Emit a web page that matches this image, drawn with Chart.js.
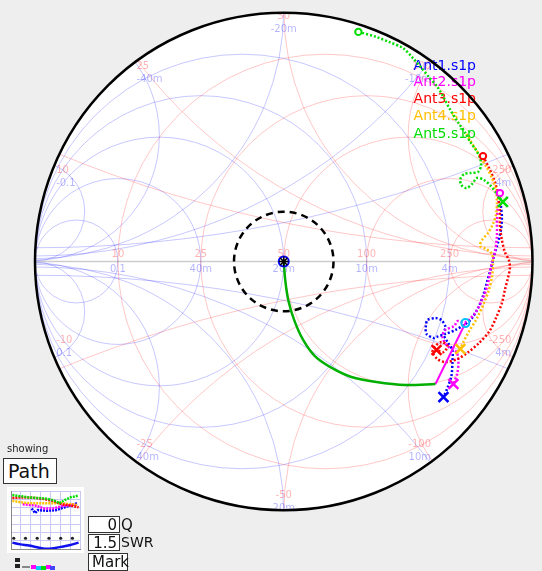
<!DOCTYPE html>
<html>
<head>
<meta charset="utf-8">
<script src="https://cdn.jsdelivr.net/npm/chart.js@4.4.1/dist/chart.umd.min.js"></script>
<style>
  html, body { margin: 0; padding: 0; width: 542px; height: 571px; overflow: hidden;
    background: #eeeeee; font-family: "DejaVu Sans", sans-serif; color: #111; }
  #smith { position: absolute; left: 0; top: 0; }
  #mini { position: absolute; left: 7px; top: 487px; background: #fff; }
  .lbl { position: absolute; white-space: nowrap; }
  .box { position: absolute; background: #fff; border: 1px solid #333; box-sizing: border-box;
    white-space: nowrap; line-height: 1; }
  #showing { left: 7px; top: 443px; font-size: 10px; color: #222; }
  #pathBox { left: 3px; top: 458px; width: 54px; height: 26px; font-size: 19px; padding: 3px 0 0 4px; }
  #qBox { left: 88px; top: 516px; width: 32px; height: 17px; font-size: 15px; text-align: right; padding: 1px 2px 0 0; }
  #swrBox { left: 88px; top: 534px; width: 32px; height: 17px; font-size: 15px; text-align: right; padding: 1px 2px 0 0; }
  #markBox { left: 88px; top: 553px; width: 40px; height: 18px; font-size: 15px; padding: 1px 0 0 3px; }
  #qLbl { left: 121px; top: 516px; font-size: 15px; }
  #swrLbl { left: 121px; top: 534px; font-size: 14px; }
  .sw { position: absolute; width: 5px; height: 4px; }
</style>
</head>
<body>
<canvas id="smith" width="542" height="571"></canvas>
<div class="lbl" id="showing">showing</div>
<div class="box" id="pathBox">Path</div>
<canvas id="mini" width="77" height="66"></canvas>
<div class="box" id="qBox">0</div><div class="lbl" id="qLbl">Q</div>
<div class="box" id="swrBox">1.5</div><div class="lbl" id="swrLbl">SWR</div>
<div class="box" id="markBox">Mark</div>
<div class="sw" style="left:15px;top:558px;background:#222;"></div>
<div class="sw" style="left:15px;top:564px;background:#222;"></div>
<div class="sw" style="left:22px;top:566px;width:8px;height:2px;background:#888;"></div>
<div class="sw" style="left:31px;top:565px;background:#ff00ff;"></div>
<div class="sw" style="left:36px;top:566px;background:#00ccff;"></div>
<div class="sw" style="left:41px;top:566px;background:#00dd00;"></div>
<div class="sw" style="left:46px;top:565px;background:#ff00ff;"></div>
<div class="sw" style="left:50px;top:566px;background:#4444ff;"></div>
<script>
// ---- reference impedance and chart grid ----
const Z0 = 50;
const gridOhms = [10, 25, 50, 100, 250];
const ohmLabels = ['10', '25', '50', '100', '250'];
const siemensLabels = ['0.1', '40m', '20m', '10m', '4m'];
const reactancePosLabels = ['10', '25', '50', '100', '250'];
const reactanceNegLabels = ['-10', '-25', '-50', '-100', '-250'];
const susceptancePosLabels = ['-0.1', '-40m', '-20m', '-10m', '-4m'];
const susceptanceNegLabels = ['0.1', '40m', '20m', '10m', '4m'];
const swrTarget = 1.5;

// ---- measured reflection coefficients [re, im] ----
const antNames = ['Ant1.s1p', 'Ant2.s1p', 'Ant3.s1p', 'Ant4.s1p', 'Ant5.s1p'];
const ant1 = [[0.873,0.221],[0.877,0.177],[0.873,0.125],[0.861,0.074],[0.845,0.022],[0.833,-0.026],
  [0.817,-0.082],[0.801,-0.137],[0.781,-0.185],[0.757,-0.225],[0.730,-0.249],[0.690,-0.272],
  [0.650,-0.288],[0.614,-0.300],[0.602,-0.304],[0.574,-0.288],[0.571,-0.260],[0.578,-0.233],
  [0.610,-0.225],[0.634,-0.233],[0.650,-0.260],[0.642,-0.288],[0.658,-0.320],[0.678,-0.352],
  [0.678,-0.400],[0.674,-0.455],[0.658,-0.503],[0.642,-0.539]];
const ant2 = [[0.869,0.272],[0.861,0.221],[0.857,0.165],[0.857,0.101],[0.849,0.038],[0.837,-0.002],
  [0.829,-0.050],[0.817,-0.101],[0.797,-0.153],[0.769,-0.205],[0.730,-0.241],[0.698,-0.237],
  [0.686,-0.256],[0.650,-0.272],[0.638,-0.300],[0.658,-0.336],[0.694,-0.360],[0.702,-0.396],
  [0.698,-0.443],[0.682,-0.487]];
const ant3 = [[0.801,0.419],[0.825,0.372],[0.849,0.316],[0.861,0.264],[0.869,0.205],[0.869,0.145],
  [0.877,0.085],[0.889,0.038],[0.905,0.006],[0.909,-0.026],[0.901,-0.066],[0.889,-0.113],
  [0.877,-0.165],[0.853,-0.225],[0.825,-0.280],[0.785,-0.324],[0.742,-0.360],[0.698,-0.388],
  [0.650,-0.400],[0.618,-0.388],[0.598,-0.360],[0.610,-0.336],[0.634,-0.320],[0.658,-0.336],
  [0.642,-0.360],[0.614,-0.352]];
const ant4 = [[0.734,0.507],[0.761,0.463],[0.789,0.419],[0.817,0.372],[0.837,0.332],[0.853,0.284],
  [0.857,0.233],[0.853,0.185],[0.841,0.149],[0.821,0.113],[0.797,0.085],[0.789,0.062],
  [0.813,0.050],[0.837,0.030],[0.841,-0.014],[0.837,-0.062],[0.825,-0.113],[0.805,-0.165],
  [0.777,-0.225],[0.746,-0.276],[0.722,-0.320],[0.710,-0.348]];
const ant5 = [[0.300,0.913],[0.372,0.893],[0.423,0.873],[0.479,0.849],[0.519,0.809],[0.551,0.773],
  [0.583,0.734],[0.618,0.694],[0.642,0.654],[0.670,0.602],[0.702,0.551],[0.730,0.511],
  [0.750,0.475],[0.773,0.443],[0.789,0.412],[0.793,0.380],[0.781,0.356],[0.753,0.352],
  [0.726,0.348],[0.710,0.328],[0.714,0.304],[0.734,0.292],[0.757,0.308],[0.777,0.332],
  [0.805,0.324],[0.833,0.300],[0.857,0.268],[0.881,0.237]];
const antTraces = [ant1, ant2, ant3, ant4, ant5];

// ---- matching path: series element then shunt element ----
const seriesPath = [[0,0],[0.006,-0.074],[0.018,-0.153],[0.042,-0.233],[0.078,-0.312],[0.125,-0.376],
  [0.193,-0.423],[0.272,-0.459],[0.372,-0.479],[0.491,-0.491],[0.610,-0.487]];
const shuntPath = [[0.610,-0.487],[0.730,-0.245]];

// ---- small sweep view (x: sweep %, y: % of range) ----
const miniAnt1 = [[30,70],[35,62],[39,67],[52,66],[65,67],[78,72],[96,79]];
const miniAnt2 = [[17,77],[35,75],[48,70],[61,70],[74,74],[92,77]];
const miniAnt3 = [[2,88],[17,89],[35,88],[48,86],[61,83],[74,77],[86,75],[98,72]];
const miniAnt4 = [[2,83],[17,80],[30,79],[43,79],[61,79],[74,79],[96,76]];
const miniAnt5 = [[2,93],[14,91],[26,89],[38,88],[50,87],[62,84],[70,79],[79,85],[86,89],[98,92]];
const miniSwr = [[2,11],[14,8],[26,6],[38,3],[50,0.5],[62,1.5],[74,4],[86,7],[98,11]];
const miniMarkers = [[4,18.5],[21,18.5],[38,18.5],[55,18.5],[72,18.5],[89,18.5]];

// ---- styling ----
const antColors = ['#0000ff', '#ff00ff', '#ff0000', '#ffc000', '#00dd00'];
const redGrid = 'rgba(255,0,0,0.22)';
const blueGrid = 'rgba(0,0,255,0.22)';
const redText = 'rgba(255,0,0,0.30)';
const blueText = 'rgba(0,0,255,0.30)';

const pts = arr => arr.map(p => ({ x: p[0], y: p[1] }));
const lastOf = arr => arr[arr.length - 1];

const smithGrid = {
  id: 'smithGrid',
  beforeDatasetsDraw(chart) {
    const { ctx, scales: { x: xs, y: ys } } = chart;
    const P = (re, im) => [xs.getPixelForValue(re), ys.getPixelForValue(im)];
    const R = xs.getPixelForValue(1) - xs.getPixelForValue(0);
    const [cx, cy] = P(0, 0);
    const circ = (re, im, rad) => {
      const [px, py] = P(re, im);
      ctx.beginPath(); ctx.arc(px, py, rad * R, 0, Math.PI * 2); ctx.stroke();
    };
    ctx.save();
    ctx.beginPath(); ctx.arc(cx, cy, R, 0, Math.PI * 2);
    ctx.fillStyle = '#ffffff'; ctx.fill();
    ctx.clip();
    ctx.lineWidth = 1;
    // admittance grid
    ctx.strokeStyle = blueGrid;
    gridOhms.forEach(ohm => {
      const r = ohm / Z0;
      circ(-1 / (1 + r), 0, r / (1 + r));
      circ(-1, r, r); circ(-1, -r, r);
    });
    // impedance grid
    ctx.strokeStyle = redGrid;
    gridOhms.forEach(ohm => {
      const r = ohm / Z0;
      circ(r / (1 + r), 0, 1 / (1 + r));
      circ(1, 1 / r, 1 / r); circ(1, -1 / r, 1 / r);
    });
    // real axis
    ctx.strokeStyle = 'rgba(0,0,0,0.2)'; ctx.lineWidth = 1.5;
    const [lx, ly] = P(-1, 0), [rx] = P(1, 0);
    ctx.beginPath(); ctx.moveTo(lx, ly); ctx.lineTo(rx, ly); ctx.stroke();

    // labels
    ctx.font = '10px "DejaVu Sans", sans-serif';
    gridOhms.forEach((ohm, i) => {
      const r = ohm / Z0;
      const [ax, ay] = P((r - 1) / (r + 1), 0);
      ctx.textAlign = 'center';
      ctx.textBaseline = 'bottom'; ctx.fillStyle = redText; ctx.fillText(ohmLabels[i], ax, ay - 2);
      ctx.textBaseline = 'top'; ctx.fillStyle = blueText; ctx.fillText(siemensLabels[i], ax, ay + 3);
      [1, -1].forEach(sgn => {
        const x = sgn * r;
        const d = 1 + x * x;
        const [px, py] = P((x * x - 1) / d, 2 * x / d);
        const gx = (x * x - 1) / d;
        let tx = px;
        if (gx < -0.05) { ctx.textAlign = 'left'; tx = px + 2; }
        else if (gx > 0.05) { ctx.textAlign = 'right'; tx = px - 2; }
        else ctx.textAlign = 'center';
        if (sgn > 0) {
          ctx.textBaseline = 'top';
          ctx.fillStyle = redText; ctx.fillText(reactancePosLabels[i], tx, py + 1);
          ctx.fillStyle = blueText; ctx.fillText(susceptancePosLabels[i], tx, py + 14);
        } else {
          ctx.textBaseline = 'bottom';
          ctx.fillStyle = redText; ctx.fillText(reactanceNegLabels[i], tx, py - 13);
          ctx.fillStyle = blueText; ctx.fillText(susceptanceNegLabels[i], tx, py);
        }
      });
    });

    // SWR target circle
    ctx.setLineDash([7, 5]); ctx.lineWidth = 2.5; ctx.strokeStyle = '#000';
    circ(0, 0, (swrTarget - 1) / (swrTarget + 1));
    ctx.setLineDash([]);
    ctx.restore();

    // legend
    ctx.save();
    ctx.font = '14px "DejaVu Sans", sans-serif';
    ctx.textAlign = 'right'; ctx.textBaseline = 'middle';
    const legendY = [66, 82, 99, 116, 134];
    antNames.forEach((n, i) => { ctx.fillStyle = antColors[i]; ctx.fillText(n, 476, legendY[i]); });
    ctx.restore();
  },
  afterDatasetsDraw(chart) {
    const { ctx, scales: { x: xs, y: ys } } = chart;
    const R = xs.getPixelForValue(1) - xs.getPixelForValue(0);
    ctx.save();
    ctx.strokeStyle = '#000'; ctx.lineWidth = 2.5;
    ctx.beginPath(); ctx.arc(xs.getPixelForValue(0), ys.getPixelForValue(0), R, 0, Math.PI * 2); ctx.stroke();
    ctx.restore();
  }
};

const datasets = [];
antTraces.forEach((tr, i) => datasets.push({
  label: antNames[i], data: pts(tr), showLine: true, borderColor: antColors[i],
  borderWidth: 2.5, borderDash: [2, 2], pointRadius: 0, tension: 0.3, order: 5 - i
}));
datasets.push({ label: 'series', data: pts(seriesPath), showLine: true, borderColor: '#00b000',
  borderWidth: 2.5, pointRadius: 0, tension: 0.3, order: 0 });
datasets.push({ label: 'shunt', data: pts(shuntPath), showLine: true, borderColor: '#ff00ff',
  borderWidth: 2, pointRadius: 0, order: 0 });
datasets.push({ label: 'ends', data: pts(antTraces.map(lastOf)), showLine: false, pointStyle: 'crossRot',
  pointRadius: 7, pointBorderWidth: 2.5, pointBorderColor: antColors, order: -1 });
datasets.push({ label: 'starts', data: pts([ant5[0], ant3[0], ant2[0]]), showLine: false, pointStyle: 'circle',
  pointRadius: 3.2, pointBorderWidth: 2, pointBackgroundColor: '#fff',
  pointBorderColor: [antColors[4], antColors[2], antColors[1]], order: -1 });
datasets.push({ label: 'tip', data: pts([lastOf(shuntPath)]), showLine: false, pointStyle: 'circle',
  pointRadius: 4, pointBorderWidth: 2, pointBackgroundColor: 'rgba(0,0,0,0)', pointBorderColor: '#00c0ff', order: -1 });
datasets.push({ label: 'load', data: pts([seriesPath[0]]), showLine: false, pointStyle: 'circle',
  pointRadius: 5, pointBorderWidth: 2, pointBackgroundColor: 'rgba(0,0,0,0)', pointBorderColor: '#0000ff', order: -2 });
datasets.push({ label: 'loadStar', data: pts([seriesPath[0]]), showLine: false, pointStyle: 'star',
  pointRadius: 5, pointBorderWidth: 1.5, pointBorderColor: '#000', order: -3 });

new Chart(document.getElementById('smith'), {
  type: 'scatter',
  data: { datasets },
  options: {
    responsive: false, animation: false, devicePixelRatio: 1,
    layout: { padding: { left: 35, right: 4, top: 10, bottom: 58 } },
    scales: {
      x: { type: 'linear', min: -1, max: 1, display: false },
      y: { type: 'linear', min: -1, max: 1, display: false }
    },
    plugins: { legend: { display: false }, tooltip: { enabled: false } },
    events: []
  },
  plugins: [smithGrid]
});

// ---- small sweep view ----
const miniSeries = [miniAnt5, miniAnt3, miniAnt4, miniAnt2, miniAnt1];
const miniColors = [antColors[4], antColors[2], antColors[3], antColors[1], antColors[0]];
const miniSets = miniSeries.map((s, i) => ({
  data: pts(s), showLine: true, borderColor: miniColors[i], borderWidth: 2.5,
  borderDash: [2, 1], pointRadius: 0, order: i
}));
miniSets.push({ data: pts(miniSwr), showLine: true, borderColor: '#1010ee', borderWidth: 2.5, pointRadius: 0, tension: 0.3 });
miniSets.push({ data: pts(miniMarkers), showLine: false, pointRadius: 1.6, pointBackgroundColor: '#222', pointBorderWidth: 0 });

new Chart(document.getElementById('mini'), {
  type: 'scatter',
  data: { datasets: miniSets },
  options: {
    responsive: false, animation: false, devicePixelRatio: 1,
    layout: { padding: 0 },
    scales: {
      x: { type: 'linear', min: 0, max: 100, ticks: { display: false, stepSize: 100 / 7 },
        grid: { color: '#c8c8f0', drawTicks: false }, border: { color: '#888' } },
      y: { type: 'linear', min: 0, max: 100, ticks: { display: false, stepSize: 100 / 7 },
        grid: { color: '#c8c8f0', drawTicks: false }, border: { color: '#888' } }
    },
    plugins: { legend: { display: false }, tooltip: { enabled: false } },
    events: []
  }
});
</script>
</body>
</html>
